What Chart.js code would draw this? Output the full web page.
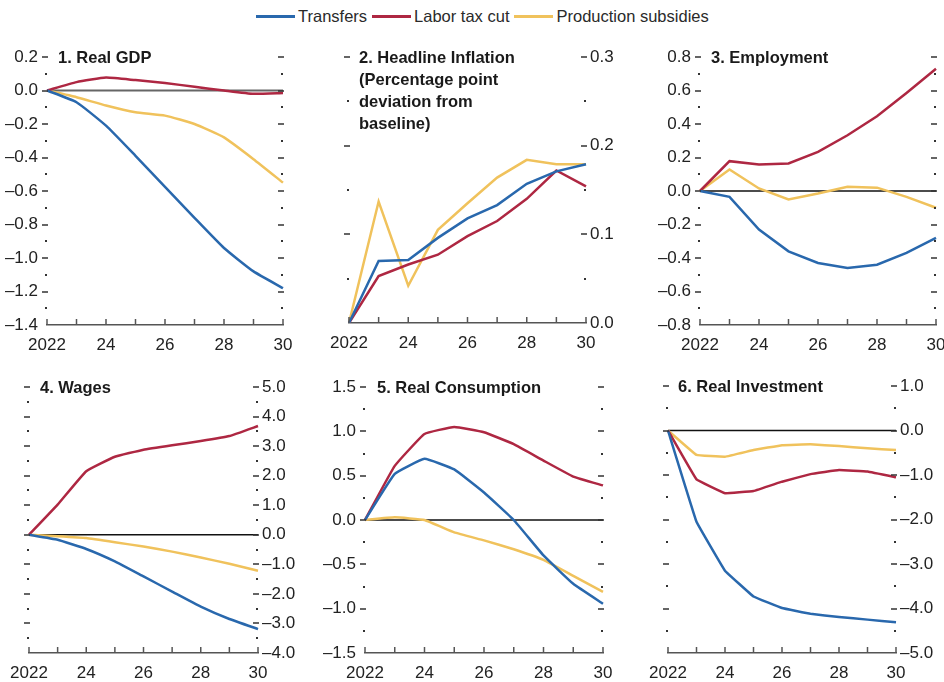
<!DOCTYPE html>
<html>
<head>
<meta charset="utf-8">
<script src="https://cdn.jsdelivr.net/npm/chart.js@4.4.1/dist/chart.umd.min.js"></script>
<style>
  html, body { margin: 0; padding: 0; background: #fff; width: 944px; height: 682px; overflow: hidden; position: relative; }
  canvas { position: absolute; }
  #legend { position: absolute; top: 7px; left: 256px; display: flex; align-items: center;
            font: 16.5px 'Liberation Sans', Arial, sans-serif; color: #2a2a2a; white-space: nowrap; }
  .item { display: flex; align-items: center; margin-right: 5px; }
  .swatch { width: 39px; height: 2.5px; margin-right: 3px; }
</style>
</head>
<body>
<div id="legend"></div>
<script>
// Policy scenarios, 2022-2030
const years = ['2022', '2023', '2024', '2025', '2026', '2027', '2028', '2029', '2030'];
const xTickLabels = ['2022', '', '24', '', '26', '', '28', '', '30'];
const seriesNames = ['Transfers', 'Labor tax cut', 'Production subsidies'];
const seriesColors = ['#2968ad', '#ae2742', '#f0c25c'];

// 1. Real GDP
const gdpTransfers   = [0, -0.07, -0.21, -0.39, -0.575, -0.76, -0.94, -1.08, -1.18];
const gdpLabor       = [0, 0.05, 0.077, 0.062, 0.045, 0.022, 0.0, -0.02, -0.015];
const gdpProduction  = [0, -0.04, -0.09, -0.13, -0.15, -0.2, -0.28, -0.41, -0.55];

// 2. Headline inflation (percentage point deviation from baseline)
const inflTransfers  = [0, 0.070, 0.071, 0.096, 0.118, 0.133, 0.157, 0.171, 0.179];
const inflLabor      = [0, 0.053, 0.066, 0.077, 0.098, 0.115, 0.140, 0.172, 0.154];
const inflProduction = [0, 0.137, 0.042, 0.105, 0.135, 0.164, 0.184, 0.179, 0.179];

// 3. Employment
const empTransfers   = [0, -0.035, -0.23, -0.36, -0.43, -0.46, -0.44, -0.37, -0.28];
const empLabor       = [0, 0.178, 0.158, 0.164, 0.234, 0.333, 0.446, 0.585, 0.73];
const empProduction  = [0, 0.128, 0.015, -0.05, -0.015, 0.025, 0.02, -0.035, -0.10];

// 4. Wages
const wageTransfers  = [0, -0.17, -0.48, -0.9, -1.41, -1.92, -2.43, -2.85, -3.19];
const wageLabor      = [0, 1.02, 2.15, 2.64, 2.88, 3.03, 3.17, 3.34, 3.68];
const wageProduction = [0, -0.05, -0.11, -0.25, -0.4, -0.57, -0.77, -0.98, -1.22];

// 5. Real consumption
const consTransfers  = [0, 0.52, 0.69, 0.57, 0.31, 0.0, -0.40, -0.72, -0.945];
const consLabor      = [0, 0.61, 0.97, 1.05, 0.99, 0.855, 0.67, 0.49, 0.39];
const consProduction = [0, 0.03, 0.0, -0.14, -0.23, -0.33, -0.45, -0.63, -0.81];

// 6. Real investment
const invTransfers   = [0, -2.05, -3.15, -3.73, -3.99, -4.12, -4.19, -4.25, -4.31];
const invLabor       = [0, -1.1, -1.41, -1.36, -1.15, -0.98, -0.89, -0.92, -1.05];
const invProduction  = [0, -0.55, -0.59, -0.44, -0.33, -0.31, -0.35, -0.40, -0.44];

const FONT = "'Liberation Sans', Arial, sans-serif";
Chart.defaults.font.family = FONT;

// Legend
const legend = document.getElementById('legend');
seriesNames.forEach((name, i) => {
  const item = document.createElement('div');
  item.className = 'item';
  const sw = document.createElement('span');
  sw.className = 'swatch';
  sw.style.background = seriesColors[i];
  const tx = document.createElement('span');
  tx.textContent = name;
  item.appendChild(sw); item.appendChild(tx);
  legend.appendChild(item);
});

function isMajor(v, major) {
  const r = v / major;
  return Math.abs(r - Math.round(r)) < 1e-6;
}
function fmt(v) {
  const s = Math.abs(v) < 1e-9 ? '0.0' : Math.abs(v).toFixed(1);
  return v < -1e-9 ? '\u2013' + s : s;
}

// Draws zero line, tick marks on both sides, x ticks and panel title
const panelDecor = {
  id: 'panelDecor',
  beforeDatasetsDraw(chart, args, opts) {
    if (!opts.zeroColor) return;
    const { ctx, chartArea: a, scales: { y } } = chart;
    const py = y.getPixelForValue(0);
    ctx.save();
    ctx.strokeStyle = opts.zeroColor;
    ctx.lineWidth = opts.zeroWidth;
    ctx.beginPath();
    ctx.moveTo(a.left, py);
    ctx.lineTo(a.right, py);
    ctx.stroke();
    ctx.restore();
  },
  afterDraw(chart, args, opts) {
    const { ctx, chartArea: a, scales: { x, y } } = chart;
    ctx.save();
    ctx.fillStyle = '#333';
    y.ticks.forEach(t => {
      const py = Math.round(y.getPixelForValue(t.value));
      if (py > a.bottom - 2) return;
      [a.left, a.right].forEach(px => {
        if (isMajor(t.value, opts.major)) ctx.fillRect(px - 5, py - 0.75, 6, 1.5);
        else ctx.fillRect(px - 2, py - 1, 2, 2);
      });
    });
    ctx.strokeStyle = '#555';
    ctx.lineWidth = 1.5;
    x.ticks.forEach((t, i) => {
      const px = x.getPixelForTick(i);
      ctx.beginPath();
      ctx.moveTo(px, a.bottom);
      ctx.lineTo(px, a.bottom - 6);
      ctx.stroke();
    });
    ctx.fillStyle = '#1a1a1a';
    ctx.font = 'bold 16.5px ' + FONT;
    ctx.textBaseline = 'middle';
    ctx.textAlign = 'left';
    opts.title.forEach((line, i) => {
      ctx.fillText(line, a.left + opts.titleOffset, a.top + 1 + i * 22);
    });
    ctx.restore();
  }
};

const panels = [
  { box: [47, 57, 283, 325], side: 'left', min: -1.4, max: 0.2, major: 0.2, minor: 0.1, tension: 0.15,
    title: ['1. Real GDP'], titleOffset: 11, zeroColor: '#666', zeroWidth: 2,
    data: [gdpTransfers, gdpLabor, gdpProduction] },
  { box: [349, 57, 586, 323], side: 'right', min: 0, max: 0.3, major: 0.1, minor: 0.05, tension: 0,
    title: ['2. Headline Inflation', '(Percentage point', 'deviation from', 'baseline)'], titleOffset: 10,
    zeroColor: null, data: [inflTransfers, inflLabor, inflProduction] },
  { box: [700, 57, 936, 325], side: 'left', min: -0.8, max: 0.8, major: 0.2, minor: 0.1, tension: 0,
    title: ['3. Employment'], titleOffset: 11, zeroColor: '#111', zeroWidth: 1.5,
    data: [empTransfers, empLabor, empProduction] },
  { box: [29, 387, 258, 653], side: 'right', min: -4, max: 5, major: 1, minor: 0.5, tension: 0.1,
    title: ['4. Wages'], titleOffset: 11, zeroColor: '#111', zeroWidth: 1.5,
    data: [wageTransfers, wageLabor, wageProduction] },
  { box: [365, 387, 603, 653], side: 'left', min: -1.5, max: 1.5, major: 0.5, minor: 0.25, tension: 0.1,
    title: ['5. Real Consumption'], titleOffset: 12, zeroColor: '#111', zeroWidth: 1.5,
    data: [consTransfers, consLabor, consProduction] },
  { box: [668, 386, 896, 653], side: 'right', min: -5, max: 1, major: 1, minor: 0.5, tension: 0.05,
    title: ['6. Real Investment'], titleOffset: 10, zeroColor: '#111', zeroWidth: 1.5,
    data: [invTransfers, invLabor, invProduction] }
];

const AXIS_W = 50, AXIS_H = 34, MARGIN = 60, TOP = 20;

panels.forEach(p => {
  const [x0, y0, x1, y1] = p.box;
  const canvas = document.createElement('canvas');
  const w = (x1 - x0) + 2 * MARGIN;
  const h = (y1 - y0) + TOP + AXIS_H;
  canvas.width = w; canvas.height = h;
  canvas.style.width = w + 'px'; canvas.style.height = h + 'px';
  canvas.style.left = (x0 - MARGIN) + 'px';
  canvas.style.top = (y0 - TOP) + 'px';
  document.body.appendChild(canvas);

  const left = p.side === 'left';
  new Chart(canvas, {
    type: 'line',
    data: {
      labels: years,
      datasets: p.data.map((d, i) => ({
        label: seriesNames[i], data: d, borderColor: seriesColors[i],
        borderWidth: 2.5, pointRadius: 0, tension: p.tension, fill: false
      }))
    },
    options: {
      responsive: false, animation: false, devicePixelRatio: 1,
      layout: { padding: { left: left ? MARGIN - AXIS_W : MARGIN, right: left ? MARGIN : MARGIN - AXIS_W, top: TOP, bottom: 0 } },
      plugins: {
        legend: { display: false }, tooltip: { enabled: false },
        panelDecor: { major: p.major, title: p.title, titleOffset: p.titleOffset, zeroColor: p.zeroColor, zeroWidth: p.zeroWidth }
      },
      scales: {
        x: {
          type: 'category', offset: false,
          grid: { display: false, drawTicks: false },
          border: { display: true, color: '#555', width: 1.5 },
          ticks: { autoSkip: false, maxRotation: 0, padding: 10, color: '#222', font: { size: 17 },
                   callback: (v, i) => xTickLabels[i] },
          afterFit(s) { s.height = AXIS_H; }
        },
        y: {
          position: p.side, min: p.min, max: p.max,
          grid: { display: false, drawTicks: false },
          border: { display: false },
          ticks: { stepSize: p.minor, maxTicksLimit: 100, autoSkip: false, padding: left ? 9 : 4,
                   color: '#222', font: { size: 17 },
                   callback: v => isMajor(v, p.major) ? fmt(v) : '' },
          afterFit(s) { s.width = AXIS_W; }
        }
      }
    },
    plugins: [panelDecor]
  });
});
</script>
</body>
</html>
